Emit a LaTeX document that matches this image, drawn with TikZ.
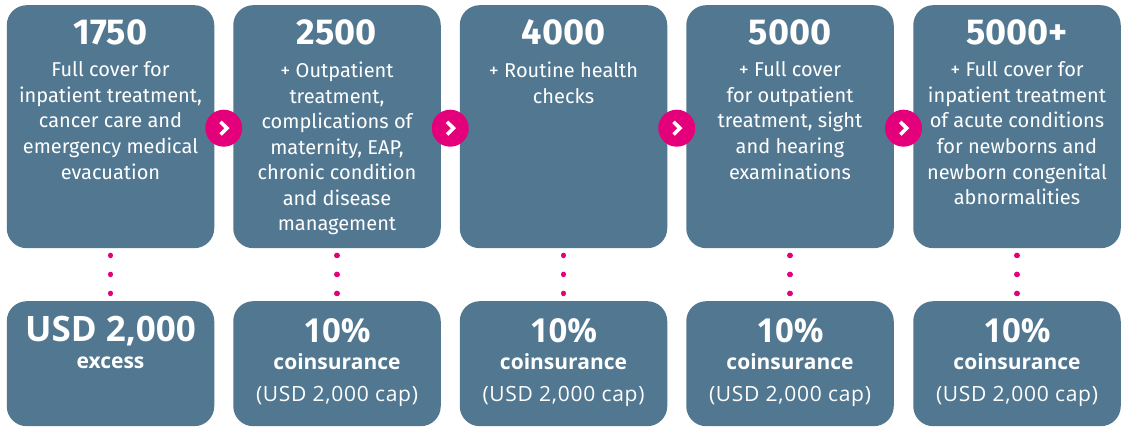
\documentclass[tikz,border=0pt]{standalone}
\usepackage{fontspec}
\setmainfont{Fira Sans}
\newfontfamily\headfont{Open Sans}
\newfontfamily\capfont[LetterSpace=3.5]{Open Sans}
\usetikzlibrary{calc}
\definecolor{boxblue}{RGB}{82,120,145}
\definecolor{hotpink}{RGB}{228,0,122}
\begin{document}
\begin{tikzpicture}[x=1pt,y=-1pt,
  panel/.style={fill=boxblue, draw=none, rounded corners=20pt, minimum width=207.5pt, inner sep=0pt, anchor=north},
  topbox/.style={panel, minimum height=243pt},
  botbox/.style={panel, minimum height=125pt},
  title/.style={text=white, inner sep=0pt, anchor=base, font=\fontsize{36}{40}\selectfont\bfseries},
  amount/.style={text=white, inner sep=0pt, anchor=base, font=\headfont\fontsize{33}{40}\selectfont\bfseries},
  body/.style={text=white, inner sep=0pt, anchor=north, align=center, font=\fontsize{20}{25.55}\selectfont, execute at begin node={\rule{0pt}{18pt}}},
  sub/.style={text=white, inner sep=0pt, anchor=base, font=\headfont\fontsize{21}{24}\selectfont\bfseries},
  captext/.style={text=white, inner sep=0pt, anchor=base, font=\capfont\fontsize{21}{24}\selectfont},
  chev/.style={circle, fill=hotpink, draw=none, minimum size=37pt, inner sep=0pt},
  chevline/.style={white, line width=3.6pt, miter limit=10},
  dotline/.style={hotpink, line width=5.5pt, line cap=round, dash pattern=on 0.1pt off 18.9pt, shorten <=7pt, shorten >=7.4pt}
]
\useasboundingbox (0,0) rectangle (1127,427);
% top boxes
\node[topbox] (t1) at (110.5,5) {};
\node[topbox] (t2) at (337,5) {};
\node[topbox] (t3) at (563.5,5) {};
\node[topbox] (t4) at (790,5) {};
\node[topbox] (t5) at (1017,5) {};
% bottom boxes
\node[botbox] (b1) at (110.5,301) {};
\node[botbox] (b2) at (337,301) {};
\node[botbox] (b3) at (563.5,301) {};
\node[botbox] (b4) at (790,301) {};
\node[botbox] (b5) at (1017,301) {};
% titles
\node[title] (h1) at ($(t1.north)+(0,39.5)$) {1750};
\node[title] (h2) at ($(t2.north)+(0,39.5)$) {2500};
\node[title] (h3) at ($(t3.north)+(0,39.5)$) {4000};
\node[title] (h4) at ($(t4.north)+(0,39.5)$) {5000};
\node[title] (h5) at ($(t5.north)+(0,39.5)$) {5000+};
% bodies
\node[body] (d1) at ($(t1.north)+(0,56.7)$) {Full cover for\\inpatient treatment,\\cancer care and\\emergency medical\\evacuation};
\node[body] (d2) at ($(t2.north)+(0,56.7)$) {+ Outpatient\\treatment,\\complications of\\maternity, EAP,\\chronic condition\\and disease\\management};
\node[body] (d3) at ($(t3.north)+(0,56.7)$) {+ Routine health\\checks};
\node[body] (d4) at ($(t4.north)+(0,56.7)$) {+ Full cover\\for outpatient\\treatment, sight\\and hearing\\examinations};
\node[body] (d5) at ($(t5.north)+(0,56.7)$) {+ Full cover for\\inpatient treatment\\of acute conditions\\for newborns and\\newborn congenital\\abnormalities};
% bottom texts
\node[amount, font=\headfont\fontsize{35}{40}\selectfont\bfseries] (p1) at ($(b1.north)+(0,41)$) {USD 2,000};
\node[sub] (s1) at ($(b1.north)+(0,67.5)$) {excess};
\foreach \i in {2,3,4,5}{
  \node[amount] (p\i) at ($(b\i.north)+(0,42)$) {10\%};
  \node[sub] (s\i) at ($(b\i.north)+(0,69)$) {coinsurance};
  \node[captext] (u\i) at ($(b\i.north)+(0,100.5)$) {(USD 2,000 cap)};
}
% dotted connectors
\foreach \i in {1,...,5}{
  \draw[dotline] (t\i) -- (b\i);
}
% chevron circles
\foreach \a/\b in {1/2,2/3,3/4,4/5}{
  \node[chev] (c\a) at ($(t\a.east)!0.5!(t\b.west)+(0,1.5)$) {};
  \draw[chevline] ($(c\a.center)+(-3.2,-6.3)$) -- ($(c\a.center)+(3.2,0)$) -- ($(c\a.center)+(-3.2,6.3)$);
}
\end{tikzpicture}
\end{document}
